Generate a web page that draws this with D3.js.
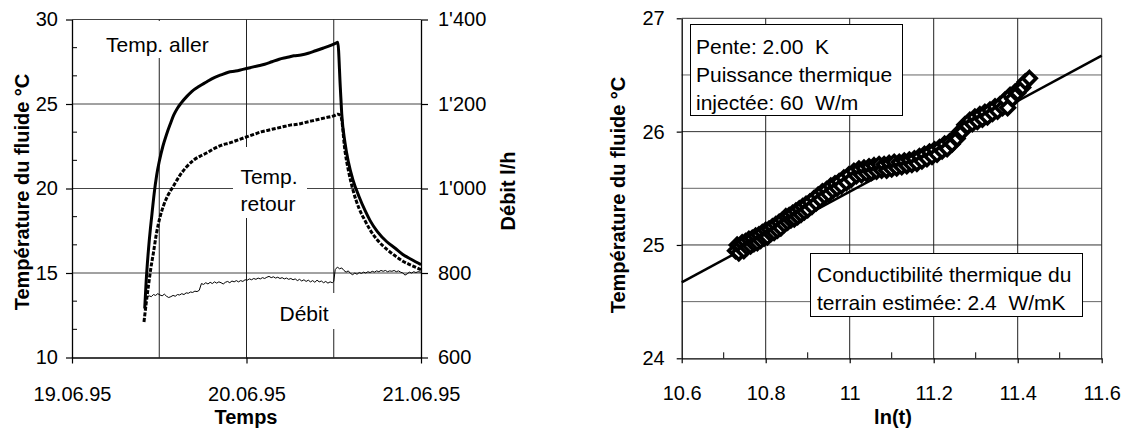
<!DOCTYPE html>
<html>
<head>
<meta charset="utf-8">
<script src="https://cdn.jsdelivr.net/npm/d3@7.9.0/dist/d3.min.js"></script>
<style>
  body { margin: 0; background: #fff; }
  svg { font-family: "Liberation Sans", Arial, sans-serif; }
  text { white-space: pre; }
</style>
</head>
<body>
<svg id="chart" width="1126" height="430"></svg>
<script>
// Left chart: test run, hours since 19.06.95 00:00
const allerHours = [10.0, 10.2, 10.5, 10.8, 11.0, 11.3, 11.65, 12.0, 12.5, 13.0, 13.5, 14.0, 14.5, 15.0, 15.8, 16.5, 17.5, 18.5, 19.5, 20.5, 21.5, 22.5, 23.5, 24.5, 25.5, 26.5, 27.5, 28.5, 29.5, 30.5, 31.5, 32.5, 33.5, 34.5, 35.5, 36.3, 36.55, 36.9, 37.1, 37.55, 38.0, 38.65, 39.5, 40.3, 41.0, 42.0, 43.3, 44.5, 45.5, 46.7, 48.0];
const allerTemp = [12.9, 14.5, 16.3, 17.7, 18.5, 19.7, 20.8, 21.6, 22.5, 23.2, 23.8, 24.35, 24.75, 25.05, 25.45, 25.75, 26.05, 26.3, 26.55, 26.72, 26.88, 26.95, 27.05, 27.15, 27.25, 27.35, 27.5, 27.65, 27.75, 27.85, 27.9, 28.0, 28.15, 28.3, 28.45, 28.6, 28.65, 26.0, 24.4, 22.7, 21.6, 20.5, 19.5, 18.7, 18.1, 17.45, 16.85, 16.45, 16.1, 15.8, 15.5];

const retourHours = [9.9, 10.2, 10.5, 10.85, 11.2, 11.6, 12.1, 12.6, 13.2, 13.9, 14.8, 15.8, 16.8, 17.8, 18.5, 19.5, 20.5, 21.7, 23.0, 24.0, 25.0, 26.0, 27.0, 28.0, 29.0, 30.0, 31.0, 32.0, 33.0, 34.0, 35.0, 36.0, 36.6, 37.0, 37.55, 38.0, 38.65, 39.5, 40.3, 41.0, 42.0, 43.3, 44.5, 45.5, 46.7, 48.0];
const retourTemp = [12.1, 13.2, 14.2, 15.3, 16.2, 17.3, 18.3, 19.0, 19.6, 20.1, 20.75, 21.3, 21.7, 21.95, 22.1, 22.35, 22.55, 22.7, 22.9, 23.05, 23.2, 23.35, 23.45, 23.55, 23.65, 23.75, 23.8, 23.9, 24.0, 24.1, 24.2, 24.3, 24.4, 24.25, 22.2, 21.1, 19.9, 18.8, 18.1, 17.55, 16.95, 16.4, 16.0, 15.7, 15.45, 15.2];

const debitHours = [10.0, 10.3, 10.6, 10.9, 11.2, 11.5, 11.8, 12.1, 12.4, 12.7, 13.0, 13.3, 13.6, 13.9, 14.2, 14.5, 14.8, 15.1, 15.4, 15.7, 16.0, 16.3, 16.6, 16.9, 17.2, 17.5, 17.8, 18.1, 18.4, 18.7, 19.0, 19.3, 19.6, 19.9, 20.2, 20.5, 20.8, 21.1, 21.4, 21.7, 22.0, 22.3, 22.6, 22.9, 23.2, 23.5, 23.8, 24.1, 24.4, 24.7, 25.0, 25.3, 25.6, 25.9, 26.2, 26.5, 26.8, 27.1, 27.4, 27.7, 28.0, 28.3, 28.6, 28.9, 29.2, 29.5, 29.8, 30.1, 30.4, 30.7, 31.0, 31.3, 31.6, 31.9, 32.2, 32.5, 32.8, 33.1, 33.4, 33.7, 34.0, 34.3, 34.6, 34.9, 35.2, 35.5, 35.8, 36.0, 36.2, 36.5, 36.8, 37.1, 37.4, 37.7, 38.0, 38.3, 38.6, 38.9, 39.2, 39.5, 39.8, 40.1, 40.4, 40.7, 41.0, 41.3, 41.6, 41.9, 42.2, 42.5, 42.8, 43.1, 43.4, 43.7, 44.0, 44.3, 44.6, 44.9, 45.2, 45.5, 45.8, 46.1, 46.4, 46.7, 47.0, 47.3, 47.6, 48.0];
const debitFlow = [735, 742, 746, 744, 749, 747, 751, 748, 746, 750, 745, 742, 744, 747, 745, 749, 748, 751, 749, 753, 752, 755, 754, 757, 756, 759, 775, 773, 777, 774, 778, 775, 779, 776, 779, 777, 774, 778, 780, 777, 781, 779, 782, 779, 782, 780, 784, 783, 786, 784, 787, 785, 788, 786, 789, 787, 790, 792, 789, 791, 788, 790, 787, 789, 786, 788, 785, 787, 784, 786, 782, 785, 781, 784, 780, 783, 779, 782, 778, 783, 779, 781, 777, 780, 776, 779, 777, 780, 808, 814, 810, 812, 806, 802, 805, 799, 796, 800, 797, 801, 799, 802, 800, 803, 801, 804, 802, 805, 803, 806, 804, 806, 803, 805, 804, 806, 803, 805, 802, 800, 795, 798, 802, 800, 803, 801, 803, 802];

const tempTicks = [10, 15, 20, 25, 30];
const flowTicks = [600, 800, 1000, 1200, 1400];
const dateTicks = [0, 24, 48];
const hourGrid = [12, 24, 36];

// Right chart: temperature vs ln(t)
const lnT = [10.728, 10.732, 10.736, 10.740, 10.744, 10.748, 10.752, 10.756, 10.760, 10.764, 10.768, 10.772, 10.776, 10.780, 10.784, 10.788, 10.792, 10.796, 10.800, 10.804, 10.808, 10.812, 10.816, 10.820, 10.824, 10.828, 10.832, 10.836, 10.840, 10.844, 10.848, 10.852, 10.856, 10.860, 10.864, 10.868, 10.872, 10.876, 10.880, 10.884, 10.888, 10.892, 10.896, 10.900, 10.905, 10.910, 10.915, 10.920, 10.925, 10.930, 10.935, 10.940, 10.945, 10.950, 10.955, 10.960, 10.965, 10.970, 10.975, 10.980, 10.986, 10.992, 10.998, 11.004, 11.010, 11.016, 11.022, 11.028, 11.034, 11.040, 11.046, 11.052, 11.058, 11.064, 11.070, 11.076, 11.082, 11.088, 11.094, 11.100, 11.106, 11.112, 11.118, 11.124, 11.130, 11.136, 11.142, 11.148, 11.154, 11.160, 11.166, 11.172, 11.178, 11.184, 11.190, 11.196, 11.202, 11.208, 11.214, 11.220, 11.226, 11.232, 11.238, 11.244, 11.250, 11.256, 11.262, 11.268, 11.274, 11.280, 11.286, 11.292, 11.298, 11.304, 11.310, 11.316, 11.322, 11.328, 11.334, 11.340, 11.346, 11.352, 11.358, 11.364, 11.370, 11.376, 11.382, 11.388, 11.394, 11.400, 11.406, 11.412, 11.418, 11.428];
const lnTemp = [24.95, 25.00, 24.93, 24.99, 25.02, 24.95, 25.03, 24.98, 25.05, 24.99, 25.06, 25.01, 25.08, 25.02, 25.09, 25.04, 25.11, 25.06, 25.13, 25.07, 25.14, 25.10, 25.16, 25.11, 25.18, 25.13, 25.20, 25.15, 25.22, 25.18, 25.25, 25.20, 25.26, 25.22, 25.28, 25.23, 25.30, 25.25, 25.32, 25.27, 25.34, 25.29, 25.36, 25.31, 25.38, 25.34, 25.41, 25.37, 25.44, 25.40, 25.47, 25.43, 25.49, 25.45, 25.52, 25.48, 25.54, 25.50, 25.56, 25.52, 25.59, 25.55, 25.62, 25.58, 25.65, 25.61, 25.67, 25.62, 25.68, 25.63, 25.69, 25.64, 25.70, 25.65, 25.71, 25.66, 25.71, 25.66, 25.72, 25.67, 25.73, 25.68, 25.73, 25.69, 25.74, 25.70, 25.75, 25.71, 25.76, 25.72, 25.78, 25.74, 25.80, 25.76, 25.82, 25.78, 25.84, 25.80, 25.86, 25.83, 25.89, 25.85, 25.91, 25.89, 25.95, 25.94, 26.00, 26.00, 26.06, 26.05, 26.10, 26.07, 26.13, 26.09, 26.15, 26.11, 26.17, 26.13, 26.19, 26.16, 26.22, 26.18, 26.24, 26.21, 26.28, 26.21, 26.32, 26.29, 26.35, 26.34, 26.39, 26.39, 26.44, 26.47];
const fitLn = [10.6, 11.6];
const fitTemp = [24.67, 26.67];

const lnTicks = [10.6, 10.8, 11.0, 11.2, 11.4, 11.6];
const lnMinor = [10.7, 10.9, 11.1, 11.3, 11.5];
const rTempTicks = [24, 25, 26, 27];
const rTempGrid = [24.5, 25, 25.5, 26, 26.5, 27];

const svg = d3.select('#chart');
const t0 = new Date(1995, 5, 19).getTime();
const hour = h => new Date(t0 + h * 3600e3);

// ---------- left chart ----------
const L = { left: 72, right: 421, top: 19.5, bottom: 357.5 };
const x1 = d3.scaleTime().domain([hour(0), hour(48)]).range([L.left, L.right]);
const yT = d3.scaleLinear().domain([10, 30]).range([L.bottom, L.top]);
const yQ = d3.scaleLinear().domain([600, 1400]).range([L.bottom, L.top]);
const quote = d3.formatLocale({ decimal: '.', thousands: "'", grouping: [3], currency: ['', ''] }).format(',');

const g1 = svg.append('g');

g1.selectAll('.hgrid').data(tempTicks.slice(1)).join('line')
  .attr('x1', L.left).attr('x2', L.right)
  .attr('y1', d => yT(d)).attr('y2', d => yT(d))
  .attr('stroke', '#444').attr('stroke-width', 1);
g1.selectAll('.vgrid').data(hourGrid).join('line')
  .attr('x1', d => x1(hour(d))).attr('x2', d => x1(hour(d)))
  .attr('y1', L.top).attr('y2', L.bottom)
  .attr('stroke', '#222').attr('stroke-width', 1);

// white backgrounds behind the in-plot labels
const labelBoxes = [
  { x: 100, y: 21, w: 118, h: 37 },
  { x: 233, y: 147, w: 74, h: 71 },
  { x: 271, y: 293, w: 67, h: 36 }
];
g1.selectAll('.lbg').data(labelBoxes).join('rect')
  .attr('x', d => d.x).attr('y', d => d.y).attr('width', d => d.w).attr('height', d => d.h)
  .attr('fill', '#fff');

const lineT = d3.line().curve(d3.curveMonotoneX)
  .x(d => x1(hour(d[0]))).y(d => yT(d[1]));
const lineQ = d3.line()
  .x(d => x1(hour(d[0]))).y(d => yQ(d[1]));

g1.append('path').datum(debitHours.map((h, i) => [h, debitFlow[i]]))
  .attr('d', lineQ).attr('fill', 'none').attr('stroke', '#000').attr('stroke-width', 1);
g1.append('path').datum(retourHours.map((h, i) => [h, retourTemp[i]]))
  .attr('d', lineT).attr('fill', 'none').attr('stroke', '#000')
  .attr('stroke-width', 3).attr('stroke-dasharray', '4,1.6');
g1.append('path').datum(allerHours.map((h, i) => [h, allerTemp[i]]))
  .attr('d', lineT).attr('fill', 'none').attr('stroke', '#000').attr('stroke-width', 3);

// axes
g1.append('g').attr('transform', `translate(${L.left},0)`)
  .call(d3.axisLeft(yT).tickValues(tempTicks).tickSize(6).tickSizeOuter(0).tickPadding(8));
g1.append('g').attr('transform', `translate(${L.right},0)`)
  .call(d3.axisRight(yQ).tickValues(flowTicks).tickFormat(quote).tickSize(7).tickSizeOuter(0).tickPadding(10));
g1.append('g').attr('transform', `translate(0,${L.bottom})`)
  .call(d3.axisBottom(x1).tickValues(dateTicks.map(hour)).tickFormat(d3.timeFormat('%d.%m.%y'))
    .tickSize(6).tickSizeOuter(0).tickPadding(23));

// minor inside ticks on temperature axis
const minorT = d3.range(10, 30, 5 / 3).filter(v => Math.abs(v % 5) > 0.01 && Math.abs(v % 5 - 5) > 0.01);
g1.selectAll('.mt').data(minorT).join('line')
  .attr('x1', L.left).attr('x2', L.left + 5)
  .attr('y1', d => yT(d)).attr('y2', d => yT(d)).attr('stroke', '#000');

const ann = [
  { t: 'Temp. aller', x: 106, y: 52, a: 'start' },
  { t: 'Temp.', x: 269, y: 184, a: 'middle' },
  { t: 'retour', x: 268, y: 211, a: 'middle' },
  { t: 'Débit', x: 304, y: 321, a: 'middle' }
];
g1.selectAll('.ann').data(ann).join('text')
  .attr('x', d => d.x).attr('y', d => d.y).attr('text-anchor', d => d.a)
  .attr('font-size', 21).text(d => d.t);

g1.append('text').attr('x', 246).attr('y', 424).attr('text-anchor', 'middle')
  .attr('font-size', 20).attr('font-weight', 'bold').text('Temps');
g1.append('text').attr('transform', 'translate(29,192) rotate(-90)').attr('text-anchor', 'middle')
  .attr('font-size', 20).attr('font-weight', 'bold').text('Température du fluide °C');
g1.append('text').attr('transform', 'translate(515,191) rotate(-90)').attr('text-anchor', 'middle')
  .attr('font-size', 20).attr('font-weight', 'bold').text('Débit l/h');

// ---------- right chart ----------
const R = { left: 681.7, right: 1101.7, top: 18.3, bottom: 358.3 };
const x2 = d3.scaleLinear().domain([10.6, 11.6]).range([R.left, R.right]);
const y2 = d3.scaleLinear().domain([24, 27]).range([R.bottom, R.top]);
const g2 = svg.append('g');

g2.selectAll('.hg').data(rTempGrid).join('line')
  .attr('x1', R.left).attr('x2', R.right)
  .attr('y1', d => y2(d)).attr('y2', d => y2(d))
  .attr('stroke', d => d % 1 === 0 ? '#333' : '#666').attr('stroke-width', 1);
g2.selectAll('.vg').data(lnTicks.slice(1)).join('line')
  .attr('x1', d => x2(d)).attr('x2', d => x2(d))
  .attr('y1', R.top).attr('y2', R.bottom)
  .attr('stroke', '#222').attr('stroke-width', 1);

const lnFmt = d => String(+d.toFixed(1));
g2.append('g').attr('transform', `translate(${R.left},0)`)
  .call(d3.axisLeft(y2).tickValues(rTempTicks).tickFormat(d3.format('d')).tickSize(5).tickSizeOuter(0).tickPadding(12));
g2.append('g').attr('transform', `translate(0,${R.bottom})`)
  .call(d3.axisBottom(x2).tickValues(lnTicks).tickFormat(lnFmt).tickSize(5).tickSizeOuter(0).tickPadding(23));
g2.selectAll('.mx').data(lnMinor).join('line')
  .attr('x1', d => x2(d)).attr('x2', d => x2(d))
  .attr('y1', R.bottom).attr('y2', R.bottom - 6).attr('stroke', '#000');

g2.append('path').datum(fitLn.map((v, i) => [v, fitTemp[i]]))
  .attr('d', d3.line().x(d => x2(d[0])).y(d => y2(d[1])))
  .attr('stroke', '#000').attr('stroke-width', 2.5).attr('fill', 'none');

const diamondType = d3.symbolDiamond2 || d3.symbolSquare;
const rot = d3.symbolDiamond2 ? 0 : 45;
const sym = d3.symbol().type(diamondType).size(d3.symbolDiamond2 ? 115 : 90);
g2.selectAll('.pt').data(lnT.map((v, i) => [v, lnTemp[i]])).join('path')
  .attr('d', sym)
  .attr('transform', d => `translate(${x2(d[0])},${y2(d[1])}) rotate(${rot})`)
  .attr('fill', '#fff').attr('stroke', '#000').attr('stroke-width', 3.6);

// text boxes
const box1 = g2.append('g');
box1.append('rect').attr('x', 690.5).attr('y', 24.5).attr('width', 212).attr('height', 91)
  .attr('fill', '#fff').attr('stroke', '#000').attr('stroke-width', 1);
box1.selectAll('text').data(['Pente: 2.00  K', 'Puissance thermique', 'injectée: 60  W/m']).join('text')
  .attr('x', 696).attr('y', (d, i) => 54 + i * 28).attr('font-size', 21).text(d => d);

const box2 = g2.append('g');
box2.append('rect').attr('x', 810.5).attr('y', 253.5).attr('width', 272).attr('height', 63)
  .attr('fill', '#fff').attr('stroke', '#000').attr('stroke-width', 1);
box2.selectAll('text').data(['Conductibilité thermique du', 'terrain estimée: 2.4  W/mK']).join('text')
  .attr('x', 817).attr('y', (d, i) => 282 + i * 28).attr('font-size', 21).text(d => d);

g2.append('text').attr('x', 893).attr('y', 424).attr('text-anchor', 'middle')
  .attr('font-size', 20).attr('font-weight', 'bold').text('ln(t)');
g2.append('text').attr('transform', 'translate(625,195) rotate(-90)').attr('text-anchor', 'middle')
  .attr('font-size', 20).attr('font-weight', 'bold').text('Température du fluide °C');

// common axis styling
svg.selectAll('.domain').attr('stroke', '#000').attr('stroke-width', 1.3);
svg.selectAll('.tick line').attr('stroke', '#000').attr('stroke-width', 1.2);
svg.selectAll('.tick text').attr('font-size', 20).attr('fill', '#000')
  .attr('font-family', '"Liberation Sans", Arial, sans-serif');
</script>
</body>
</html>
